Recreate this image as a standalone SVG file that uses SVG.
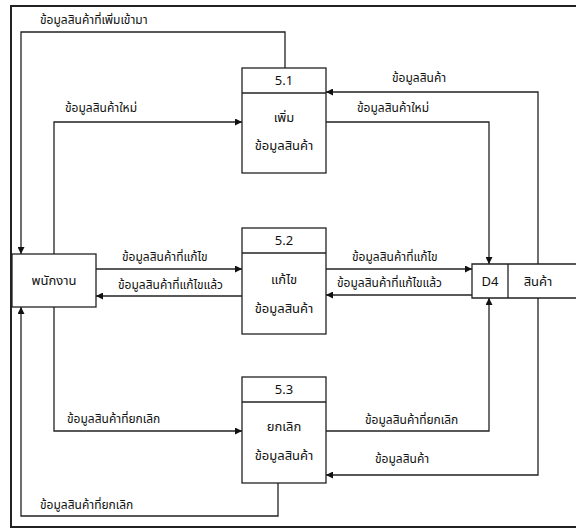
<svg xmlns="http://www.w3.org/2000/svg" width="576" height="529" viewBox="0 0 576 529">
<style>
  text { font-family: "Noto Sans Thai", "Noto Sans", "DejaVu Sans", sans-serif; font-size: 12px; fill: #111; }
  .c { text-anchor: middle; font-size: 13px; }
  .box { fill: #fff; stroke: #222; stroke-width: 1.3; }
  .ln { fill: none; stroke: #222; stroke-width: 1.3; }
</style>
<defs>
  <marker id="ah" viewBox="0 0 10 10" refX="10" refY="5" markerWidth="7" markerHeight="7" markerUnits="userSpaceOnUse" orient="auto">
    <path d="M0,0 L10,5 L0,10 Z" fill="#111"/>
  </marker>
</defs>
<rect width="576" height="529" fill="#fff"/>
<path d="M590,6 L11,6 L11,527 L590,527" fill="none" stroke="#222" stroke-width="2"/>

<g id="connectors">
  <path class="ln" d="M285,68 L285,32 L21,32 L21,254" marker-end="url(#ah)"/>
  <path class="ln" d="M54,254 L54,122 L242,122" marker-end="url(#ah)"/>
  <path class="ln" d="M538,264 L538,92 L326,92" marker-end="url(#ah)"/>
  <path class="ln" d="M326,122 L489,122 L489,264" marker-end="url(#ah)"/>
  <path class="ln" d="M96,269 L242,269" marker-end="url(#ah)"/>
  <path class="ln" d="M242,296 L96,296" marker-end="url(#ah)"/>
  <path class="ln" d="M326,269 L472,269" marker-end="url(#ah)"/>
  <path class="ln" d="M472,295 L326,295" marker-end="url(#ah)"/>
  <path class="ln" d="M54,307 L54,431 L242,431" marker-end="url(#ah)"/>
  <path class="ln" d="M278,483 L278,516 L21,516 L21,307" marker-end="url(#ah)"/>
  <path class="ln" d="M326,431 L489,431 L489,298" marker-end="url(#ah)"/>
  <path class="ln" d="M538,298 L538,475 L326,475" marker-end="url(#ah)"/>
  <text x="40" y="24">ข้อมูลสินค้าที่เพิ่มเข้ามา</text>
  <text x="65" y="112">ข้อมูลสินค้าใหม่</text>
  <text x="392" y="82">ข้อมูลสินค้า</text>
  <text x="357" y="112">ข้อมูลสินค้าใหม่</text>
  <text x="122" y="261">ข้อมูลสินค้าที่แก้ไข</text>
  <text x="118" y="289">ข้อมูลสินค้าที่แก้ไขแล้ว</text>
  <text x="352" y="261">ข้อมูลสินค้าที่แก้ไข</text>
  <text x="337" y="287">ข้อมูลสินค้าที่แก้ไขแล้ว</text>
  <text x="67" y="423">ข้อมูลสินค้าที่ยกเลิก</text>
  <text x="40" y="509">ข้อมูลสินค้าที่ยกเลิก</text>
  <text x="365" y="424">ข้อมูลสินค้าที่ยกเลิก</text>
  <text x="375" y="463">ข้อมูลสินค้า</text>
</g>

<g id="employee">
  <rect class="box" x="12" y="254" width="84" height="53"/>
  <text class="c" x="54" y="285">พนักงาน</text>
</g>

<g id="p51">
  <rect class="box" x="242" y="68" width="84" height="105"/>
  <line class="ln" x1="242" y1="93" x2="326" y2="93"/>
  <text class="c" x="284" y="85">5.1</text>
  <text class="c" x="284" y="122">เพิ่ม</text>
  <text class="c" x="284" y="150">ข้อมูลสินค้า</text>
</g>

<g id="p52">
  <rect class="box" x="242" y="228" width="84" height="106"/>
  <line class="ln" x1="242" y1="253" x2="326" y2="253"/>
  <text class="c" x="284" y="245">5.2</text>
  <text class="c" x="284" y="284">แก้ไข</text>
  <text class="c" x="284" y="313">ข้อมูลสินค้า</text>
</g>

<g id="p53">
  <rect class="box" x="242" y="377" width="84" height="106"/>
  <line class="ln" x1="242" y1="402" x2="326" y2="402"/>
  <text class="c" x="284" y="394">5.3</text>
  <text class="c" x="284" y="431">ยกเลิก</text>
  <text class="c" x="284" y="460">ข้อมูลสินค้า</text>
</g>

<g id="d4">
  <path class="box" d="M590,264 L472,264 L472,298 L590,298"/>
  <line class="ln" x1="508" y1="264" x2="508" y2="298"/>
  <text class="c" x="490" y="286">D4</text>
  <text class="c" x="538" y="286">สินค้า</text>
</g>
</svg>
